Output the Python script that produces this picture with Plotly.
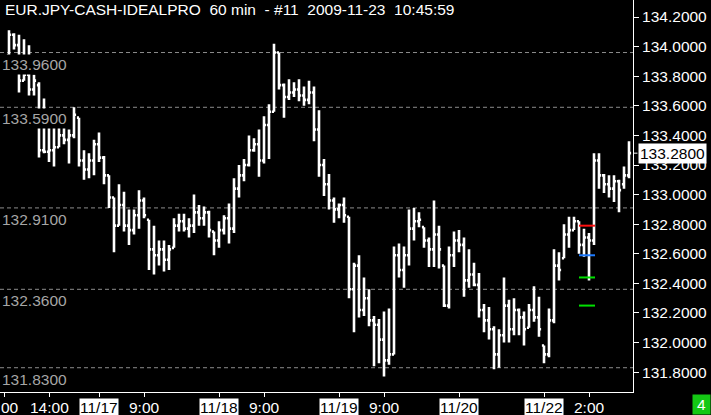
import plotly.graph_objects as go

# ---------------- data ----------------
title_text = "EUR.JPY-CASH-IDEALPRO\u00a0\u00a060 min\u00a0\u00a0- #11\u00a0\u00a02009-11-23\u00a0\u00a010:45:59"

open_ = [133.94, 134.08, 134.01, 133.77, 133.81, 133.71, 133.74, 133.30, 133.29, 133.30,
         133.32, 133.40, 133.37, 133.40, 133.52, 133.23, 133.17, 133.23, 133.34, 133.25,
         133.13, 132.98, 132.79, 132.93, 132.79, 132.76, 132.86, 132.96, 132.83, 132.63,
         132.59, 132.63, 132.56, 132.64, 132.79, 132.82, 132.77, 132.79, 132.88, 132.84,
         132.88, 132.75, 132.69, 132.76, 132.84, 132.77, 133.04, 133.13, 133.20, 133.30,
         133.34, 133.23, 133.47, 133.56, 133.96, 133.74, 133.66, 133.69, 133.71, 133.67,
         133.64, 133.69, 133.44, 133.20, 133.07, 132.96, 132.90, 132.93, 132.85, 132.36,
         132.52, 132.22, 132.30, 132.15, 132.12, 132.02, 131.88, 131.92, 132.59, 132.49,
         132.59, 132.77, 132.82, 132.78, 132.69, 132.63, 132.73, 132.52, 132.25, 132.59,
         132.69, 132.66, 132.42, 132.46, 132.39, 132.22, 132.15, 132.09, 131.92, 132.05,
         132.25, 132.09, 132.22, 132.17, 132.10, 132.22, 132.17, 131.98, 131.92, 132.15,
         132.52, 132.57, 132.73, 132.76, 132.82, 132.66, 132.71, 132.69, 133.23, 133.13,
         133.07, 133.04, 133.09, 133.07, 133.13]

high = [134.11, 134.09, 134.08, 134.05, 134.01, 133.81, 133.76, 133.65, 133.54, 133.45,
        133.52, 133.54, 133.44, 133.59, 133.52, 133.30, 133.28, 133.37, 133.42, 133.26,
        133.13, 132.98, 133.07, 133.02, 132.90, 132.90, 133.03, 132.98, 132.83, 132.79,
        132.69, 132.69, 132.66, 132.84, 132.87, 132.87, 132.84, 133.00, 132.93, 132.92,
        132.89, 132.75, 132.82, 132.86, 132.94, 133.11, 133.20, 133.24, 133.40, 133.38,
        133.44, 133.53, 133.61, 134.02, 133.96, 133.75, 133.78, 133.76, 133.78, 133.73,
        133.77, 133.73, 133.57, 133.24, 133.14, 132.98, 132.94, 132.98, 132.85, 132.54,
        132.59, 132.44, 132.36, 132.18, 132.16, 132.21, 132.23, 132.65, 132.67, 132.65,
        132.90, 132.91, 132.88, 132.78, 132.71, 132.96, 132.79, 132.52, 132.65, 132.75,
        132.76, 132.71, 132.63, 132.54, 132.47, 132.26, 132.24, 132.11, 132.09, 132.44,
        132.29, 132.30, 132.23, 132.21, 132.26, 132.38, 132.31, 131.98, 132.23, 132.63,
        132.61, 132.80, 132.85, 132.85, 132.82, 132.77, 132.74, 133.28, 133.28, 133.14,
        133.13, 133.13, 133.10, 133.19, 133.36]

low = [133.92, 133.98, 133.69, 133.77, 133.67, 133.67, 133.25, 133.28, 133.22, 133.19,
       133.32, 133.34, 133.21, 133.38, 133.19, 133.10, 133.11, 133.13, 133.22, 133.07,
       132.91, 132.61, 132.79, 132.75, 132.66, 132.73, 132.77, 132.84, 132.49, 132.46,
       132.52, 132.48, 132.49, 132.64, 132.75, 132.75, 132.71, 132.74, 132.79, 132.79,
       132.71, 132.59, 132.64, 132.73, 132.67, 132.74, 132.98, 133.09, 133.19, 133.29,
       133.12, 133.21, 133.24, 133.56, 133.71, 133.52, 133.64, 133.66, 133.63, 133.60,
       133.61, 133.36, 133.12, 132.99, 132.90, 132.81, 132.84, 132.81, 132.30, 132.07,
       132.17, 132.18, 132.11, 131.84, 131.86, 131.77, 131.85, 131.92, 132.44, 132.37,
       132.52, 132.69, 132.78, 132.64, 132.51, 132.51, 132.50, 132.24, 132.23, 132.51,
       132.61, 132.31, 132.37, 132.38, 132.17, 132.07, 132.02, 131.82, 131.83, 132.00,
       132.00, 132.05, 132.05, 131.98, 132.10, 132.14, 132.04, 131.86, 131.90, 132.13,
       132.42, 132.57, 132.64, 132.76, 132.60, 132.58, 132.42, 132.66, 133.04, 133.01,
       132.98, 132.95, 132.88, 133.04, 133.11]

close = [134.08, 134.01, 133.77, 133.81, 133.71, 133.77, 133.30, 133.29, 133.30, 133.32,
         133.40, 133.37, 133.40, 133.54, 133.23, 133.17, 133.23, 133.34, 133.25, 133.13,
         132.98, 132.79, 132.93, 132.79, 132.76, 132.86, 132.96, 132.86, 132.63, 132.59,
         132.63, 132.56, 132.63, 132.79, 132.82, 132.77, 132.79, 132.88, 132.84, 132.88,
         132.76, 132.69, 132.76, 132.84, 132.77, 133.04, 133.13, 133.20, 133.30, 133.34,
         133.23, 133.47, 133.56, 133.96, 133.74, 133.66, 133.69, 133.71, 133.67, 133.64,
         133.69, 133.44, 133.20, 133.07, 132.96, 132.90, 132.93, 132.86, 132.36, 132.52,
         132.22, 132.30, 132.15, 132.12, 132.02, 131.88, 131.92, 132.59, 132.49, 132.59,
         132.77, 132.82, 132.83, 132.69, 132.63, 132.73, 132.63, 132.25, 132.59, 132.69,
         132.66, 132.42, 132.46, 132.39, 132.22, 132.15, 132.09, 131.92, 132.05, 132.25,
         132.09, 132.22, 132.17, 132.09, 132.22, 132.17, 132.09, 131.92, 132.15, 132.52,
         132.49, 132.73, 132.76, 132.82, 132.66, 132.71, 132.69, 133.23, 133.13, 133.07,
         133.04, 133.09, 133.03, 133.13, 133.28]

bar_index = list(range(len(close)))

# time-axis ticks (bar index of the hourly bar) and their labels
tick_idx = [-1, 8, 18, 27, 42, 51, 66, 75, 90, 107, 116]
tick_text = ["00", "14:00", "11/17", "9:00", "11/18", "9:00", "11/19", "9:00", "11/20", "11/22", "2:00"]
tick_is_date = [False, False, True, False, True, False, True, False, True, True, False]

# price axis
price_ticks = [131.8, 132.0, 132.2, 132.4, 132.6, 132.8, 133.0, 133.2, 133.4, 133.6, 133.8, 134.0, 134.2]
price_range = [131.666, 134.315]
last_price = 133.28

# horizontal reference levels (dashed, labelled on the left)
levels = [133.96, 133.59, 132.91, 132.36, 131.83]

# order markers near the last bars
marker_levels = [132.79, 132.59, 132.44, 132.25]
marker_colors = ["#ff1010", "#1e7bff", "#00e000", "#00e000"]
marker_span = [114.0, 117.2]

badge_text = "4"

FONT = "Liberation Sans, Arial, sans-serif"
FS = 15.5

# ---------------- figure ----------------
fig = go.Figure(go.Ohlc(
    x=bar_index, open=open_, high=high, low=low, close=close,
    increasing=dict(line=dict(color="white", width=2.6)),
    decreasing=dict(line=dict(color="white", width=2.6)),
    tickwidth=0.42, hoverinfo="skip",
))

shapes = []
for lv in levels:
    shapes.append(dict(type="line", xref="paper", yref="y", x0=0, x1=1, y0=lv, y1=lv,
                       line=dict(color="#8c8c8c", width=1, dash="4px,3px"), layer="below"))
for lv, col in zip(marker_levels, marker_colors):
    shapes.append(dict(type="line", xref="x", yref="y", x0=marker_span[0], x1=marker_span[1],
                       y0=lv, y1=lv, line=dict(color=col, width=2), layer="above"))
# tick for current price
shapes.append(dict(type="line", xref="paper", yref="y", x0=1, x1=1.007, y0=last_price, y1=last_price,
                   line=dict(color="white", width=1)))

annotations = []
annotations.append(dict(text=title_text, xref="paper", yref="paper", x=0, y=1, xanchor="left",
                        yanchor="top", xshift=3, yshift=1, showarrow=False,
                        font=dict(family=FONT, size=FS, color="white")))
for lv in levels:
    annotations.append(dict(text=f"{lv:.4f}", xref="paper", yref="y", x=0, y=lv, xanchor="left",
                            yanchor="top", yshift=-1, showarrow=False, bgcolor="black", borderpad=1,
                            font=dict(family=FONT, size=FS, color="#a6a6a6")))
for i, (ti, tt, isd) in enumerate(zip(tick_idx, tick_text, tick_is_date)):
    a = dict(text=tt, xref="x", yref="paper", x=ti, y=-6 / 392, yanchor="top", showarrow=False,
             borderpad=0, font=dict(family=FONT, size=FS, color="black" if isd else "white"))
    if isd:
        a["bgcolor"] = "white"
    if i == 0:
        a.update(xref="paper", x=0, xanchor="left")
    annotations.append(a)
annotations.append(dict(text=f"{last_price:.4f}", xref="paper", yref="y", x=638 / 633, y=last_price,
                        xanchor="left", yanchor="middle", showarrow=False, bgcolor="white",
                        borderpad=1, font=dict(family=FONT, size=FS, color="black")))
annotations.append(dict(text=badge_text, xref="paper", yref="paper", x=711 / 633, y=-23 / 392,
                        xanchor="right", yanchor="bottom", showarrow=False, bgcolor="#14c814",
                        width=17, height=19, borderpad=0,
                        font=dict(family=FONT, size=FS, color="white")))

fig.update_layout(
    width=711, height=415,
    paper_bgcolor="black", plot_bgcolor="black",
    margin=dict(l=0, r=78, t=0, b=23),
    showlegend=False,
    shapes=shapes, annotations=annotations,
    xaxis=dict(range=[-1.8, 124.8], showline=True, linecolor="white", linewidth=1,
               ticks="outside", ticklen=4, tickcolor="white", tickvals=tick_idx,
               showticklabels=False, showgrid=False, zeroline=False,
               rangeslider=dict(visible=False), fixedrange=True),
    yaxis=dict(range=price_range, side="right", showline=True, linecolor="white", linewidth=1,
               ticks="outside", ticklen=5, tickcolor="white", tickvals=price_ticks,
               tickformat=".4f", tickfont=dict(family=FONT, size=FS, color="white"),
               showgrid=False, zeroline=False, fixedrange=True),
)

fig.write_html("out.html", config={"displayModeBar": False},
               post_script="document.body.style.margin='0';document.body.style.background='black';")
